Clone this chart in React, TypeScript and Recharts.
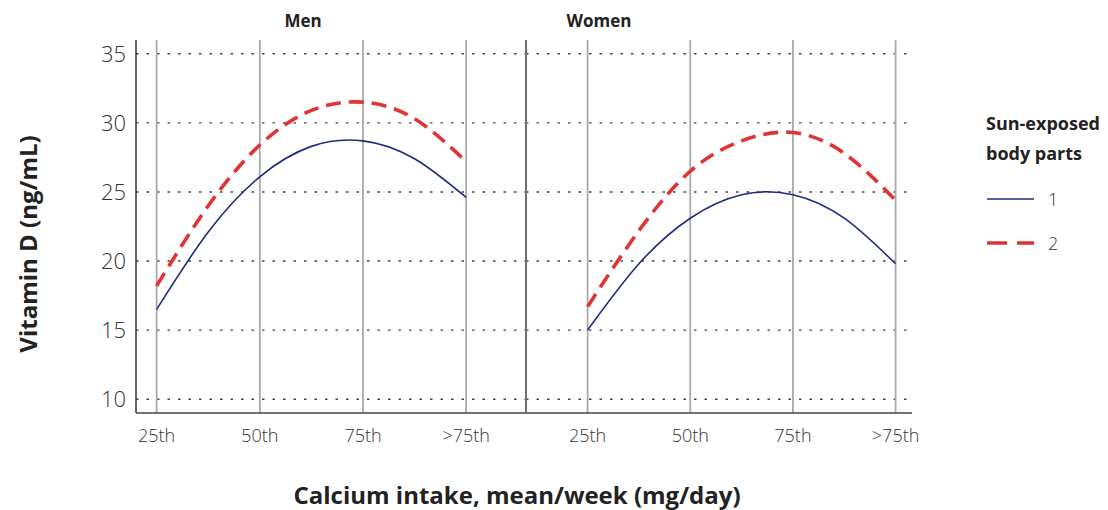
import { Line, LineChart, ReferenceLine, XAxis, YAxis } from 'recharts'

// percentile positions along the x axis (0 = 25th ... 3 = >75th)
const CATEGORY_LABELS = ['25th', '50th', '75th', '>75th']
const CATEGORY_TICKS = [0, 1, 2, 3]
const POSITIONS = [0, 0.5, 1, 1.5, 2, 2.5, 3]

// vitamin D (ng/mL)
const MEN_SUN_1 = [16.5, 22.1, 26.1, 28.3, 28.7, 27.4, 24.6]
const MEN_SUN_2 = [18.2, 24.0, 28.4, 30.9, 31.5, 30.3, 27.2]
const WOMEN_SUN_1 = [15.0, 19.8, 23.1, 24.8, 24.8, 23.1, 19.8]
const WOMEN_SUN_2 = [16.7, 22.2, 26.5, 28.7, 29.3, 27.8, 24.4]

const Y_TICKS = [10, 15, 20, 25, 30, 35]

const NAVY = '#1f2c7c'
const RED = '#e03333'
const FONT = '"Open Sans", "Noto Sans", sans-serif'

function buildRows(a: number[], b: number[]) {
  return POSITIONS.map((x, i) => ({ x, sun1: a[i], sun2: b[i] }))
}

const tickStyle = { fontSize: 18, fill: '#333', fontFamily: FONT, fontWeight: 300 }

interface PanelProps {
  rows: { x: number; sun1: number; sun2: number }[]
  domain: [number, number]
  showYTicks: boolean
  width: number
  yAxisWidth: number
  rightMargin: number
}

function Panel({ rows, domain, showYTicks, width, yAxisWidth, rightMargin }: PanelProps) {
  return (
    <LineChart width={width} height={510} data={rows} margin={{ top: 40, right: rightMargin, bottom: 57, left: 0 }}>
      <XAxis
        type="number"
        dataKey="x"
        domain={domain}
        ticks={CATEGORY_TICKS}
        allowDataOverflow
        tickFormatter={(v: number) => CATEGORY_LABELS[v]}
        axisLine={{ stroke: '#444', strokeWidth: 1.6 }}
        tickLine={false}
        tickSize={0}
        tickMargin={16}
        height={40}
        tick={tickStyle}
      />
      <YAxis
        domain={[9, 36]}
        ticks={Y_TICKS}
        allowDataOverflow
        width={yAxisWidth}
        axisLine={{ stroke: showYTicks ? '#333' : '#707070', strokeWidth: showYTicks ? 1.5 : 2 }}
        tickLine={false}
        tickSize={0}
        tickMargin={10}
        tick={showYTicks ? { ...tickStyle, fontSize: 22 } : false}
      />
      {Y_TICKS.map(v => (
        <ReferenceLine key={'y' + v} y={v} stroke="#444" strokeWidth={1.4} strokeDasharray="2.5 8" />
      ))}
      {CATEGORY_TICKS.map(c => (
        <ReferenceLine key={'x' + c} x={c} stroke="#a9a9a9" strokeWidth={1.8} />
      ))}
      <Line type="natural" dataKey="sun1" stroke={NAVY} strokeWidth={1.6} dot={false} isAnimationActive={false} />
      <Line
        type="natural"
        dataKey="sun2"
        stroke={RED}
        strokeWidth={3.6}
        strokeDasharray="15 8"
        dot={false}
        isAnimationActive={false}
      />
    </LineChart>
  )
}

const boldText = { fontFamily: FONT, fontWeight: 700, color: '#222', whiteSpace: 'nowrap' as const }

export default function App() {
  return (
    <div style={{ position: 'absolute', left: 0, top: 0, width: 1108, height: 510, background: '#fff', overflow: 'hidden' }}>
      <div style={{ position: 'absolute', left: 0, top: 0 }}>
        <Panel rows={buildRows(MEN_SUN_1, MEN_SUN_2)} domain={[-0.2, 3.58]} showYTicks width={526} yAxisWidth={136} rightMargin={0} />
      </div>
      <div style={{ position: 'absolute', left: 524, top: 0 }}>
        <Panel
          rows={buildRows(WOMEN_SUN_1, WOMEN_SUN_2)}
          domain={[-0.6, 3.16]}
          showYTicks={false}
          width={428}
          yAxisWidth={2}
          rightMargin={40}
        />
      </div>

      <div style={{ ...boldText, position: 'absolute', left: 303, top: 20, fontSize: 17, transform: 'translate(-50%, -50%)' }}>Men</div>
      <div style={{ ...boldText, position: 'absolute', left: 599, top: 20, fontSize: 17, transform: 'translate(-50%, -50%)' }}>Women</div>

      <div
        style={{ ...boldText, position: 'absolute', left: 27, top: 244, fontSize: 24, transform: 'translate(-50%, -50%) rotate(-90deg)' }}
      >
        Vitamin D (ng/mL)
      </div>
      <div style={{ ...boldText, position: 'absolute', left: 517, top: 494, fontSize: 24, transform: 'translate(-50%, -50%)' }}>
        Calcium intake, mean/week (mg/day)
      </div>

      <div style={{ ...boldText, position: 'absolute', left: 986, top: 108, fontSize: 18, lineHeight: '30px' }}>
        Sun-exposed
        <br />
        body parts
      </div>
      {[
        { label: '1', y: 199, color: NAVY, width: 1.6, dash: undefined },
        { label: '2', y: 243, color: RED, width: 3.6, dash: '20 10' },
      ].map(item => (
        <div key={item.label} style={{ position: 'absolute', left: 986, top: item.y - 12, height: 24, display: 'flex', alignItems: 'center' }}>
          <svg width={49} height={24}>
            <line x1={1} y1={12} x2={48} y2={12} stroke={item.color} strokeWidth={item.width} strokeDasharray={item.dash} />
          </svg>
          <span style={{ marginLeft: 13, fontFamily: FONT, fontWeight: 300, fontSize: 18, color: '#333' }}>{item.label}</span>
        </div>
      ))}
    </div>
  )
}
